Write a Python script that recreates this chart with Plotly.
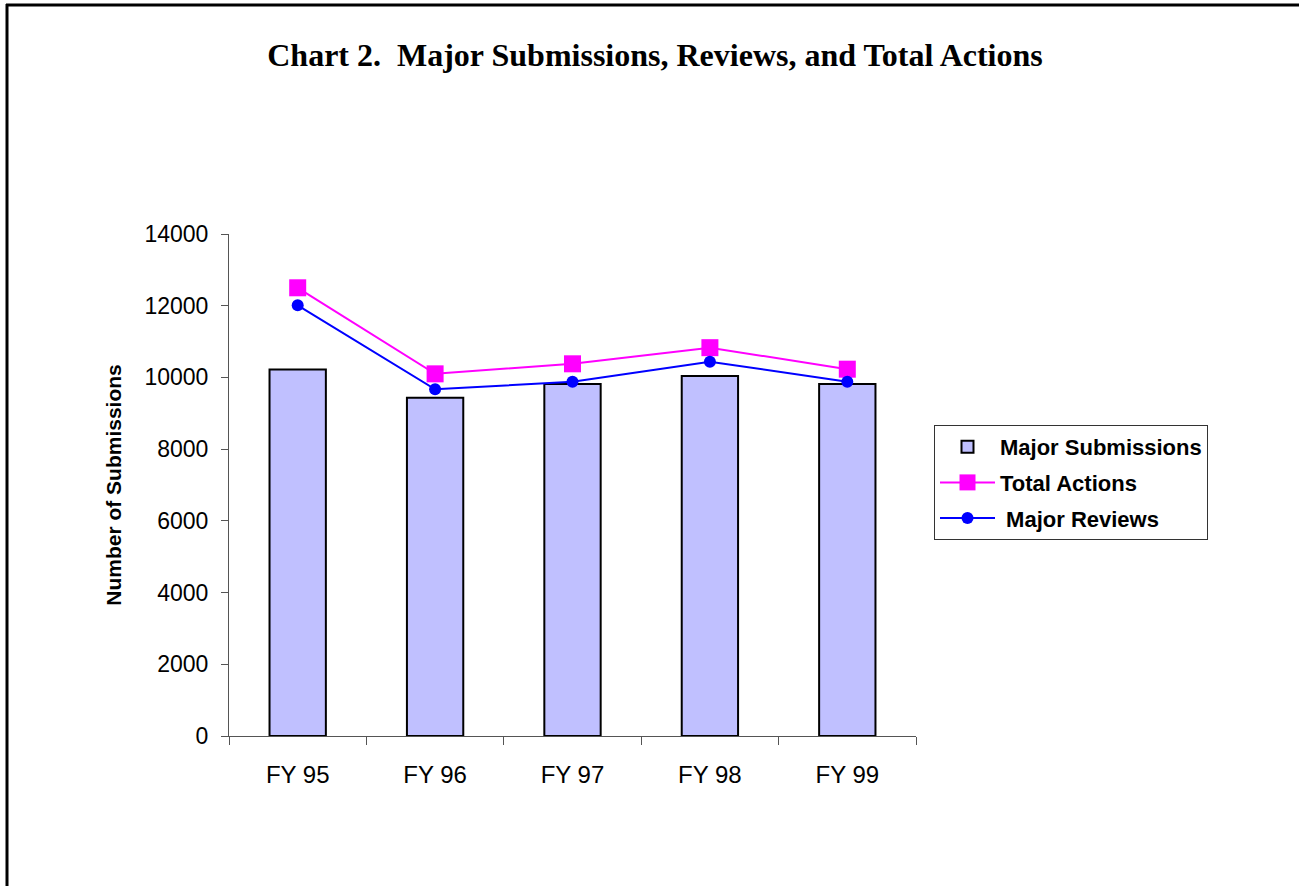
import plotly.graph_objects as go

categories = ["FY 95", "FY 96", "FY 97", "FY 98", "FY 99"]
major_submissions = [10220, 9430, 9820, 10040, 9820]
total_actions = [12500, 10100, 10380, 10830, 10230]
major_reviews = [12010, 9670, 9880, 10440, 9880]
y_ticks = [0, 2000, 4000, 6000, 8000, 10000, 12000, 14000]

FONT = "Liberation Sans, Arial, sans-serif"

fig = go.Figure()
fig.add_trace(go.Bar(
    x=categories, y=major_submissions, name="Major Submissions",
    marker=dict(color="#C0C0FF", line=dict(color="#000000", width=2)),
    width=0.41, legendgroup="a",
))
fig.add_trace(go.Scatter(
    x=categories, y=total_actions, name="Total Actions", mode="lines+markers",
    line=dict(color="#FF00FF", width=2),
    marker=dict(symbol="square", size=17, color="#FF00FF"),
    legendgroup="b",
))
fig.add_trace(go.Scatter(
    x=categories, y=major_reviews, name=" Major Reviews", mode="lines+markers",
    line=dict(color="#0000FF", width=2),
    marker=dict(symbol="circle", size=12, color="#0000FF"),
    legendgroup="c",
))

L, R, T, B = 229, 383, 234, 150
W, H = 1299, 886
pw, ph = W - L - R, H - T - B

def px_x(px):
    return (px - L) / pw

def px_y(py):
    return (H - B - py) / ph

fig.update_layout(
    width=W, height=H,
    margin=dict(l=L, r=R, t=T, b=B, pad=0),
    paper_bgcolor="white", plot_bgcolor="white",
    font=dict(family=FONT, color="#000000"),
    showlegend=True,
    title=dict(
        text="<b>Chart 2.  Major Submissions, Reviews, and Total Actions</b>",
        font=dict(family="Liberation Serif, Times New Roman, serif", size=32, color="#000000"),
        x=655 / W, xanchor="center", y=1 - 55 / H, yanchor="middle",
    ),
    legend=dict(
        x=px_x(934), y=px_y(425), xanchor="left", yanchor="top",
        bordercolor="#333333", borderwidth=1, bgcolor="white",
        font=dict(family=FONT, size=22, color="#000000", weight="bold"),
        traceorder="grouped", itemwidth=55, tracegroupgap=4,
    ),
    bargap=0.59,
    xaxis=dict(
        type="category", categoryorder="array", categoryarray=categories,
        showline=True, linecolor="#555555", linewidth=1,
        ticks="outside", ticklen=8, tickcolor="#555555", tickson="boundaries",
        tickfont=dict(family=FONT, size=24, color="#000000"),
        ticklabelstandoff=17,
        showgrid=False, zeroline=False,
    ),
    yaxis=dict(
        range=[0, 14000], tickvals=y_ticks, ticktext=[str(v) for v in y_ticks],
        showline=True, linecolor="#555555", linewidth=1,
        ticks="outside", ticklen=7, tickcolor="#555555",
        tickfont=dict(family=FONT, size=23, color="#000000"),
        ticklabelstandoff=8,
        showgrid=False, zeroline=False,
        title=dict(text="<b>Number of Submissions</b>", font=dict(family=FONT, size=21, color="#000000"), standoff=17),
    ),
    shapes=[
        dict(type="line", xref="paper", yref="paper", x0=px_x(6), x1=px_x(1310), y0=px_y(5), y1=px_y(5),
             line=dict(color="#000000", width=3)),
        dict(type="line", xref="paper", yref="paper", x0=px_x(7), x1=px_x(7), y0=px_y(4), y1=px_y(900),
             line=dict(color="#000000", width=3)),
    ],
)

fig.write_html(
    "out.html",
    config={"displayModeBar": False},
    post_script="document.body.style.margin='0px';document.body.style.overflow='hidden';",
)
